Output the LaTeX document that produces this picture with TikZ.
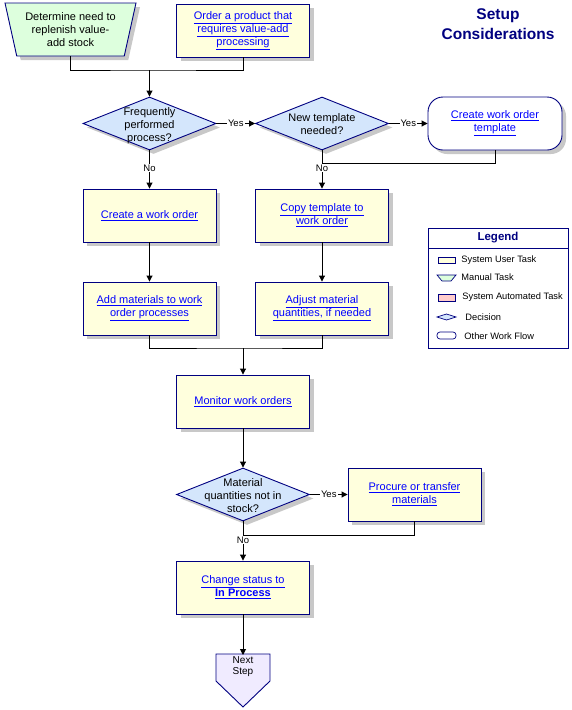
\documentclass[tikz,border=0pt]{standalone}
\usepackage{fontspec}
\setmainfont{Liberation Sans}
\usetikzlibrary{shapes.geometric,shadows,arrows.meta}
\definecolor{navy}{HTML}{000080}
\definecolor{taskfill}{HTML}{FFFFDD}
\definecolor{manfill}{HTML}{DDFFDD}
\definecolor{decfill}{HTML}{D4E6FC}
\definecolor{autofill}{HTML}{FFCCCC}
\definecolor{nextfill}{HTML}{F0EBFF}
\definecolor{shadowgray}{HTML}{C8C8C8}
\newcommand{\lnk}[1]{\textcolor{blue}{\underline{#1}}}
\newcommand{\dtext}[1]{\smash{\makebox[0pt]{\raisebox{-5pt}{\begin{tabular}{@{}c@{}}#1\end{tabular}}}}}
\tikzset{
  dshadow/.style={drop shadow={shadow xshift=4pt, shadow yshift=-4pt, fill=shadowgray, opacity=1}},
  usertask/.style={draw=navy, fill=taskfill, minimum width=133pt, minimum height=53pt,
    align=center, inner sep=2pt, dshadow},
  manualtask/.style={trapezium, shape border rotate=180, trapezium left angle=71,
    trapezium right angle=71, trapezium stretches body, minimum width=131pt,
    minimum height=53pt, inner sep=0pt, draw=navy, fill=manfill, align=center, dshadow},
  decision/.style={diamond, draw=navy, fill=decfill, minimum width=133pt,
    minimum height=53pt, inner sep=0pt, dshadow},
  workflow/.style={draw=navy, fill=white, rounded corners=15pt, minimum width=134pt,
    minimum height=53pt, align=center, dshadow},
  yn/.style={fill=white, inner sep=1pt, font=\fontsize{9.5}{11}\selectfont},
  arr/.style={-{Triangle[length=6pt,width=6pt]}},
  legtext/.style={anchor=west, inner sep=0pt, font=\fontsize{9.3}{11}\selectfont}
}
\begin{document}
\begin{tikzpicture}[x=1pt, y=-1pt, line width=0.9pt,
  font=\fontsize{11}{13}\selectfont]
\useasboundingbox (0,0) rectangle (572,710);

% title
\node[text=navy, align=center, font=\fontsize{15.5}{20}\selectfont\bfseries] (title)
  at (498,24) {Setup\\Considerations};

% start of the flow
\node[manualtask] (need) at (70.5,29.5) {Determine need to\\replenish value-\\add stock};
\node[usertask] (order) at (243,30.5)
  {\lnk{Order a product that}\\\lnk{requires value-add}\\\lnk{processing}};
\node[decision] (freq) at (149.5,123.5) {\dtext{Frequently\\performed\\process?}};
\node[decision] (newtpl) at (322,123.5) {\dtext{New template\\needed?}};
\node[workflow] (tpl) at (495,123.5) {\lnk{Create work order}\\\lnk{template}};

\node[usertask] (create) at (149.5,215.5) {\lnk{Create a work order}};
\node[usertask] (copy) at (322,215.5) {\lnk{Copy template to}\\\lnk{work order}};
\node[usertask] (addmat) at (149.5,308.5) {\lnk{Add materials to work}\\\lnk{order processes}};
\node[usertask] (adjust) at (322,308.5) {\lnk{Adjust material}\\\lnk{quantities, if needed}};

\node[usertask] (monitor) at (243,401.5) {\lnk{Monitor work orders}};
\node[decision] (instock) at (243,494.5) {\dtext{Material\\quantities not in\\stock?}};
\node[usertask] (procure) at (414.5,494.5) {\lnk{Procure or transfer}\\\lnk{materials}};
\node[usertask] (status) at (243,587.5) {\lnk{Change status to}\\\lnk{\textbf{In Process}}};

% next step
\filldraw[draw=navy, fill=nextfill] (216,654) -- (270,654) -- (270,681) -- (243,707)
  -- (216,681) -- cycle;
\node[anchor=north, align=center, inner sep=1pt, font=\fontsize{10}{11}\selectfont] (next)
  at (243,655) {Next\\Step};

% connectors
\coordinate (j1) at (149.5,70);
\coordinate (j2) at (322,163);
\coordinate (j3) at (243,348);
\coordinate (j4) at (243,535);
\draw (need.south) |- (j1) -| (order.south);
\draw[arr] (j1) -- (freq.north);
\draw[arr] (freq.east) -- node[yn] {Yes} (newtpl.west);
\draw[arr] (newtpl.east) -- node[yn] {Yes} (tpl.west);
\draw (tpl.south) |- (j2);
\draw[arr] (freq.south) -- node[yn, pos=0.46] {No} (create.north);
\draw[arr] (newtpl.south) -- node[yn, pos=0.46] {No} (copy.north);
\draw[arr] (create) -- (addmat);
\draw[arr] (copy) -- (adjust);
\draw (addmat.south) |- (j3) -| (adjust.south);
\draw[arr] (j3) -- (monitor.north);
\draw[arr] (monitor) -- (instock);
\draw[arr] (instock.east) -- node[yn] {Yes} (procure.west);
\draw (procure.south) |- (j4);
\draw[arr] (instock.south) -- node[yn, pos=0.475] {No} (status.north);
\draw[arr] (status) -- (next.north);

% legend
\node[draw=navy, minimum width=140pt, minimum height=120pt, inner sep=0pt] (legend)
  at (498,288) {};
\node[text=navy, font=\fontsize{11.5}{13}\selectfont\bfseries] (legtitle) at (498,238) {Legend};
\draw[navy] (428,248) -- (568,248);
\draw[navy, line width=0.7pt, fill=taskfill] (438,257) rectangle (455,263);
\node[legtext] (lg1) at (461,260) {System User Task};
\draw[navy, line width=0.7pt, fill=manfill] (437,275) -- (456,275) -- (451,281) -- (442,281) -- cycle;
\node[legtext] (lg2) at (461,277) {Manual Task};
\draw[navy, line width=0.7pt, fill=autofill] (438,294) rectangle (455,301);
\node[legtext] (lg3) at (462,297) {System Automated Task};
\draw[navy, line width=0.7pt, fill=decfill] (437,317) -- (446.5,314) -- (456,317) -- (446.5,320) -- cycle;
\node[legtext] (lg4) at (465,317) {Decision};
\draw[navy, line width=0.7pt, rounded corners=3pt] (437,332) rectangle (456,339);
\node[legtext] (lg5) at (464,336) {Other Work Flow};
\end{tikzpicture}
\end{document}
